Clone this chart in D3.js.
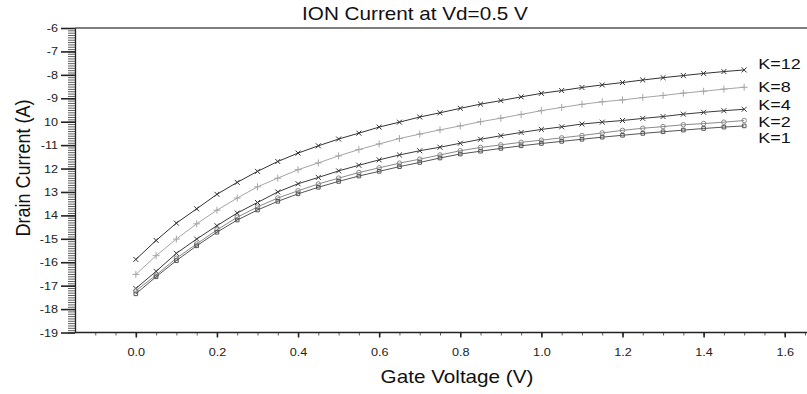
<!DOCTYPE html>
<html>
<head>
<meta charset="utf-8">
<script src="https://cdn.jsdelivr.net/npm/d3@7"></script>
<style>
	body { margin: 0; background: #fff; }
	svg { display: block; font-family: Arial, "Liberation Sans", sans-serif; }
</style>
</head>
<body>
<div id="chart"></div>
<script>
'use strict';

// gate voltage sample points (V)
const gateVoltage = [0.00, 0.05, 0.10, 0.15, 0.20, 0.25, 0.30, 0.35, 0.40, 0.45,
	0.50, 0.55, 0.60, 0.65, 0.70, 0.75, 0.80, 0.85, 0.90, 0.95,
	1.00, 1.05, 1.10, 1.15, 1.20, 1.25, 1.30, 1.35, 1.40, 1.45, 1.50];

// drain current (log scale values)
const k12 = [-15.88, -15.07, -14.33, -13.72, -13.10, -12.59, -12.12, -11.70, -11.34, -11.03,
	-10.74, -10.49, -10.23, -10.02, -9.80, -9.62, -9.43, -9.25, -9.10, -8.94,
	-8.79, -8.67, -8.54, -8.43, -8.33, -8.22, -8.12, -8.03, -7.94, -7.86, -7.79];
const k8 = [-16.52, -15.72, -15.01, -14.36, -13.78, -13.26, -12.78, -12.41, -12.05, -11.76,
	-11.46, -11.19, -10.95, -10.72, -10.53, -10.35, -10.18, -10.00, -9.85, -9.69,
	-9.53, -9.39, -9.26, -9.15, -9.07, -8.97, -8.88, -8.78, -8.70, -8.61, -8.53];
const k4 = [-17.12, -16.39, -15.62, -15.01, -14.44, -13.90, -13.45, -13.00, -12.65, -12.38,
	-12.10, -11.86, -11.63, -11.42, -11.24, -11.09, -10.92, -10.75, -10.60, -10.46,
	-10.33, -10.22, -10.10, -10.02, -9.95, -9.86, -9.78, -9.68, -9.60, -9.53, -9.47];
const k2 = [-17.22, -16.55, -15.83, -15.22, -14.62, -14.08, -13.64, -13.26, -12.95, -12.66,
	-12.41, -12.17, -11.97, -11.77, -11.60, -11.42, -11.24, -11.10, -10.99, -10.88,
	-10.79, -10.69, -10.59, -10.48, -10.37, -10.28, -10.21, -10.13, -10.08, -10.02, -9.95];
const k1 = [-17.35, -16.62, -15.93, -15.30, -14.72, -14.20, -13.77, -13.40, -13.08, -12.80,
	-12.55, -12.32, -12.12, -11.92, -11.74, -11.55, -11.38, -11.26, -11.14, -11.03,
	-10.93, -10.84, -10.75, -10.66, -10.58, -10.50, -10.43, -10.36, -10.29, -10.23, -10.18];

const seriesNames = ["K=12", "K=8", "K=4", "K=2", "K=1"];
const seriesValues = [k12, k8, k4, k2, k1];

// axis ticks
const xTicks = [0.0, 0.2, 0.4, 0.6, 0.8, 1.0, 1.2, 1.4, 1.6];
const xTickLabels = ["0.0", "0.2", "0.4", "0.6", "0.8", "1.0", "1.2", "1.4", "1.6"];
const yTicks = [-6, -7, -8, -9, -10, -11, -12, -13, -14, -15, -16, -17, -18, -19];
const yTickLabels = ["-6", "-7", "-8", "-9", "10", "-11", "12", "13", "14", "-15", "-16", "-17", "-18", "-19"];

const title = "ION Current at Vd=0.5 V";
const xLabel = "Gate Voltage (V)";
const yLabel = "Drain Current (A)";

// styles, one per series (dy nudges the end label off the line)
const styles = [
	{ color: "#333", symbol: d3.symbolTimes || d3.symbolX || d3.symbolCross, size: 18, dy: -6 },
	{ color: "#a5a5a5", symbol: d3.symbolPlus || d3.symbolCross, size: 18, dy: -1 },
	{ color: "#3a3a3a", symbol: d3.symbolTimes || d3.symbolX || d3.symbolCross, size: 18, dy: -5 },
	{ color: "#8a8a8a", symbol: d3.symbolCircle, size: 16, dy: 1 },
	{ color: "#555", symbol: d3.symbolSquare, size: 13, dy: 12 },
];

const width = 807;
const height = 394;
const stretch = 1.15;	// the original is a bit wider than tall

const svg = d3.select("#chart")
	.append("svg")
		.attr("width", width)
		.attr("height", height)
	;

const xScale = d3.scaleLinear()
	.domain([-0.15, 1.65])
	.range([75, 805])
	;

const yScale = d3.scaleLinear()
	.domain([-19, -6])
	.range([332.5, 28])
	;

// top frame line
svg.append("line")
	.attr("x1", xScale(-0.15))
	.attr("x2", width)
	.attr("y1", yScale(-6))
	.attr("y2", yScale(-6))
	.attr("stroke", "#555")
	.attr("stroke-width", 1.5)
	;

// y axis: minor ticks then major
const yMinor = svg.append("g")
	.attr("transform", `translate(${xScale(-0.15)},0)`)
	.call(d3.axisLeft(yScale)
		.tickValues(d3.range(-190, -59).map(d => d / 10))
		.tickSize(7)
		.tickFormat(""))
	;
yMinor.select(".domain").remove();
yMinor.selectAll("line").attr("stroke", "#333").attr("stroke-width", 0.8);

const yAxis = svg.append("g")
	.attr("transform", `translate(${xScale(-0.15)},0)`)
	.call(d3.axisLeft(yScale)
		.tickValues(yTicks)
		.tickSize(14)
		.tickSizeOuter(0)
		.tickFormat((d, i) => yTickLabels[i]))
	;
yAxis.select(".domain").attr("stroke", "#222").attr("stroke-width", 1.3);
yAxis.selectAll(".tick line").attr("stroke", "#222").attr("stroke-width", 1.6);
yAxis.selectAll(".tick text")
	.attr("x", -17 / stretch)
	.attr("transform", `scale(${stretch},1)`)
	.attr("font-size", 11)
	.attr("font-family", "Arial, 'Liberation Sans', sans-serif")
	.attr("fill", "#222")
	;

// x axis
const xMinor = svg.append("g")
	.attr("transform", `translate(0,${yScale(-19)})`)
	.call(d3.axisBottom(xScale)
		.tickValues(d3.range(-2, 34).map(d => d * 0.05))
		.tickSize(3)
		.tickFormat(""))
	;
xMinor.select(".domain").remove();
xMinor.selectAll("line").attr("stroke", "#333").attr("stroke-width", 0.8);

const xAxis = svg.append("g")
	.attr("transform", `translate(0,${yScale(-19)})`)
	.call(d3.axisBottom(xScale)
		.tickValues(xTicks)
		.tickSize(5)
		.tickSizeOuter(0)
		.tickFormat((d, i) => xTickLabels[i]))
	;
xAxis.select(".domain")
	.attr("d", `M${xScale(-0.15)},0H${width}`)
	.attr("stroke", "#222")
	.attr("stroke-width", 1.3)
	;
xAxis.selectAll(".tick line").attr("stroke", "#222").attr("stroke-width", 1.6);
xAxis.selectAll(".tick text")
	.attr("y", 16)
	.attr("transform", `scale(${stretch},1)`)
	.attr("font-size", 11)
	.attr("font-family", "Arial, 'Liberation Sans', sans-serif")
	.attr("fill", "#222")
	;

// the curves
const line = d3.line()
	.x((d, i) => xScale(gateVoltage[i]))
	.y(d => yScale(d))
	;

const curves = svg.append("g");

seriesValues.forEach((vals, s) => {
	const st = styles[s];
	const g = curves.append("g");

	g.append("path")
		.datum(vals)
		.attr("d", line)
		.attr("fill", "none")
		.attr("stroke", st.color)
		.attr("stroke-width", 1)
		;

	g.selectAll("path.mark")
		.data(vals)
		.join("path")
			.attr("class", "mark")
			.attr("transform", (d, i) => `translate(${xScale(gateVoltage[i])},${yScale(d)})`)
			.attr("d", d3.symbol().type(st.symbol).size(st.size))
			.attr("fill", "none")
			.attr("stroke", st.color)
			.attr("stroke-width", 1)
		;

	// series label at the end of the curve
	const last = vals[vals.length - 1];
	svg.append("text")
		.attr("transform", `translate(${xScale(gateVoltage[gateVoltage.length - 1]) + 14},${yScale(last) + st.dy}) scale(1.2,1)`)
		.attr("dy", "0.35em")
		.attr("font-size", 15)
		.attr("fill", "#111")
		.text(seriesNames[s])
		;
});

// title and axis labels
svg.append("text")
	.attr("transform", `translate(415,20) scale(${stretch},1)`)
	.attr("text-anchor", "middle")
	.attr("font-size", 18)
	.attr("fill", "#111")
	.text(title)
	;

svg.append("text")
	.attr("transform", `translate(457,383) scale(${stretch},1)`)
	.attr("text-anchor", "middle")
	.attr("font-size", 18)
	.attr("fill", "#111")
	.text(xLabel)
	;

svg.append("text")
	.attr("transform", `translate(30,168) scale(${stretch},1) rotate(-90)`)
	.attr("text-anchor", "middle")
	.attr("font-size", 18)
	.attr("fill", "#111")
	.text(yLabel)
	;
</script>
</body>
</html>
